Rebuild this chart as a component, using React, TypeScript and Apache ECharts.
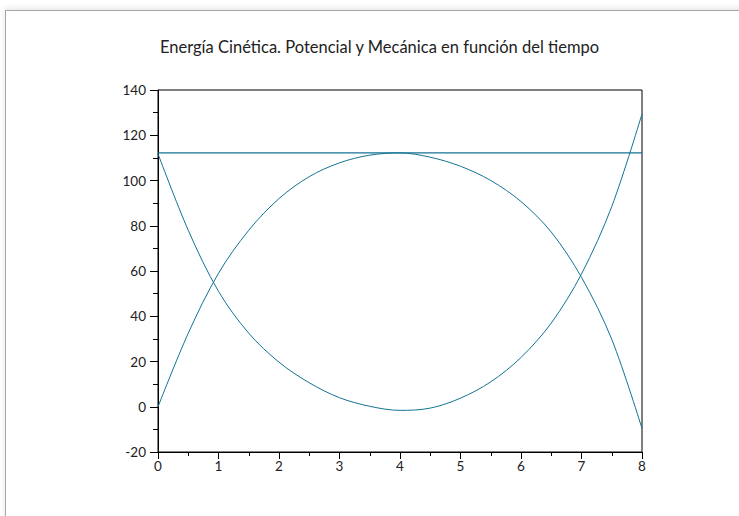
import React, { useEffect, useRef } from "react";
import * as echarts from "echarts";

const titulo = "Energía Cinética. Potencial y Mecánica en función del tiempo";
const tiempo = [0, 0.5, 1, 1.5, 2, 2.5, 3, 3.5, 4, 4.5, 5, 5.5, 6, 6.5, 7, 7.5, 8];
const cinetica = [111.8, 78, 51, 32.5, 19.7, 10.6, 4.0, 0.2, -1.6, -0.6, 3.8, 11, 21.8, 37, 58.7, 88.5, 129.4];
const potencial = [0, 32.5, 59, 78, 92, 101.7, 107.8, 111.2, 112.2, 110.3, 106.3, 100, 90.7, 77.2, 57.2, 29.8, -9.6];
const tiempoMecanica = [0, 8];
const mecanica = [112.2, 112.2];

const lineColor = "#127393";
const font = "Lato, 'Open Sans', sans-serif";

export default function App() {
  const ref = useRef<HTMLDivElement>(null);
  useEffect(() => {
    if (!ref.current) return;
    const chart = echarts.init(ref.current, undefined, { renderer: "svg" });
    const mk = (xs: number[], ys: number[]) => xs.map((x, i) => [x, ys[i]]);
    chart.setOption({
      animation: false,
      backgroundColor: "transparent",
      title: {
        text: titulo,
        left: 155,
        top: 33,
        textStyle: { fontFamily: font, fontSize: 16.5, fontWeight: "normal", color: "#222" },
      },
      grid: {
        left: 158,
        top: 90,
        right: 97,
        bottom: 64,
        show: true,
        borderColor: "#000",
        borderWidth: 1,
        backgroundColor: "#fff",
      },
      xAxis: {
        type: "value",
        min: 0,
        max: 8,
        interval: 1,
        axisLine: { show: true, onZero: false, lineStyle: { color: "#000", width: 1 } },
        axisTick: { show: true, length: 7, lineStyle: { color: "#000" } },
        minorTick: { show: true, splitNumber: 2, length: 4, lineStyle: { color: "#000" } },
        splitLine: { show: false },
        axisLabel: { margin: 7, fontFamily: font, fontSize: 13.5, color: "#222" },
      },
      yAxis: {
        type: "value",
        min: -20,
        max: 140,
        interval: 20,
        axisLine: { show: true, onZero: false, lineStyle: { color: "#000", width: 1 } },
        axisTick: { show: true, length: 8, lineStyle: { color: "#000" } },
        minorTick: { show: true, splitNumber: 2, length: 5, lineStyle: { color: "#000" } },
        splitLine: { show: false },
        axisLabel: { margin: 12, fontFamily: font, fontSize: 13.5, color: "#222" },
      },
      series: [
        {
          name: "Mecánica",
          type: "line",
          data: mk(tiempoMecanica, mecanica),
          showSymbol: false,
          lineStyle: { color: lineColor, width: 1.3 },
        },
        {
          name: "Cinética",
          type: "line",
          data: mk(tiempo, cinetica),
          smooth: 0.33,
          showSymbol: false,
          lineStyle: { color: lineColor, width: 1 },
        },
        {
          name: "Potencial",
          type: "line",
          data: mk(tiempo, potencial),
          smooth: 0.33,
          showSymbol: false,
          lineStyle: { color: lineColor, width: 1 },
        },
      ],
    });
    return () => chart.dispose();
  }, []);
  return (
    <div style={{ position: "fixed", left: 0, top: 0, width: 739, height: 516, overflow: "hidden", background: "#fff" }}>
      <div
        style={{
          position: "absolute",
          left: 5,
          top: 10,
          width: 900,
          height: 700,
          borderTop: "1.5px solid #a6a6a6",
          borderLeft: "1.5px solid #a6a6a6",
          boxShadow: "0 -2px 6px rgba(0,0,0,0.10)",
          background: "#fff",
        }}
      />
      <div ref={ref} style={{ position: "absolute", left: 0, top: 0, width: 739, height: 516 }} />
    </div>
  );
}
